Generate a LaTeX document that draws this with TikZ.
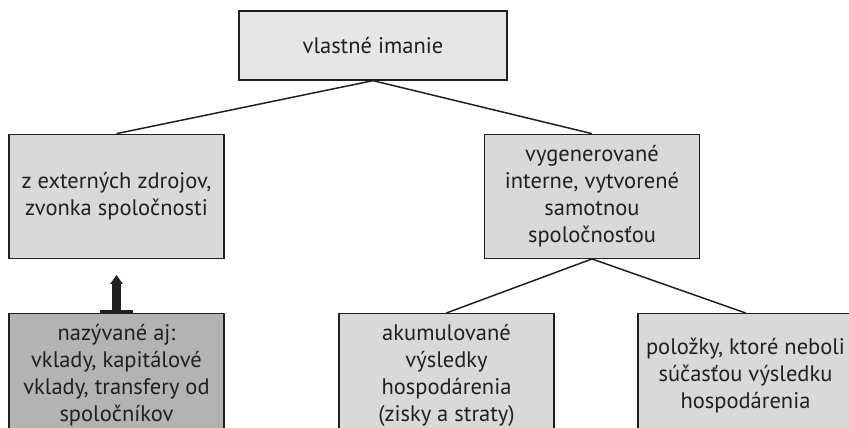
\documentclass[tikz,border=0pt]{standalone}
\usepackage{fontspec}
\setmainfont{PT Sans}
\usetikzlibrary{positioning,arrows.meta}
\definecolor{ink}{HTML}{231F20}
\definecolor{boxfill}{HTML}{D9D9D9}
\definecolor{topfill}{HTML}{E6E6E6}
\definecolor{darkfill}{HTML}{B3B3B3}
\tikzstyle{box} = [rectangle, minimum width=215pt, minimum height=124pt, inner sep=0pt, text centered, align=center, draw=ink, line width=1.3pt, fill=boxfill, text=ink, font=\fontsize{22.5}{27}\selectfont]
\tikzstyle{link} = [draw=ink, line width=1.5pt]
\tikzstyle{arrow} = [draw=ink, line width=9pt, {Bar[width=33pt,line width=3pt]}-{Triangle[width=12pt,length=9pt]}, shorten >=16pt]

\begin{document}
\begin{tikzpicture}[x=1pt,y=1pt]
    \useasboundingbox (0,0) rectangle (849,-428);
    \node[box, fill=topfill, minimum width=268pt, minimum height=69pt] (top) at (373,-45.5) {vlastné imanie};
    \node[box] (ext) [below=53pt of top, xshift=-256.5pt] {z externých zdrojov,\\zvonka spoločnosti};
    \node[box] (int) [below=53pt of top, xshift=219pt] {vygenerované\\interne, vytvorené\\samotnou\\spoločnosťou};
    \node[box, fill=darkfill] (called) [below=54pt of ext] {nazývané aj:\\vklady, kapitálové\\vklady, transfery od\\spoločníkov};
    \node[box] (accum) [below=54pt of int, xshift=-145.5pt] {akumulované\\výsledky\\hospodárenia\\(zisky a straty)};
    \node[box] (items) [below=54pt of int, xshift=153.5pt] {položky, ktoré neboli\\súčasťou výsledku\\hospodárenia};
    \draw [link] (top.south) -- (ext.north);
    \draw [link] (top.south) -- (int.north);
    \draw [link] (int.south) -- (accum.north);
    \draw [link] (int.south) -- (items.north);
    \draw [arrow] (called.north) -- (ext.south);
\end{tikzpicture}
\end{document}
